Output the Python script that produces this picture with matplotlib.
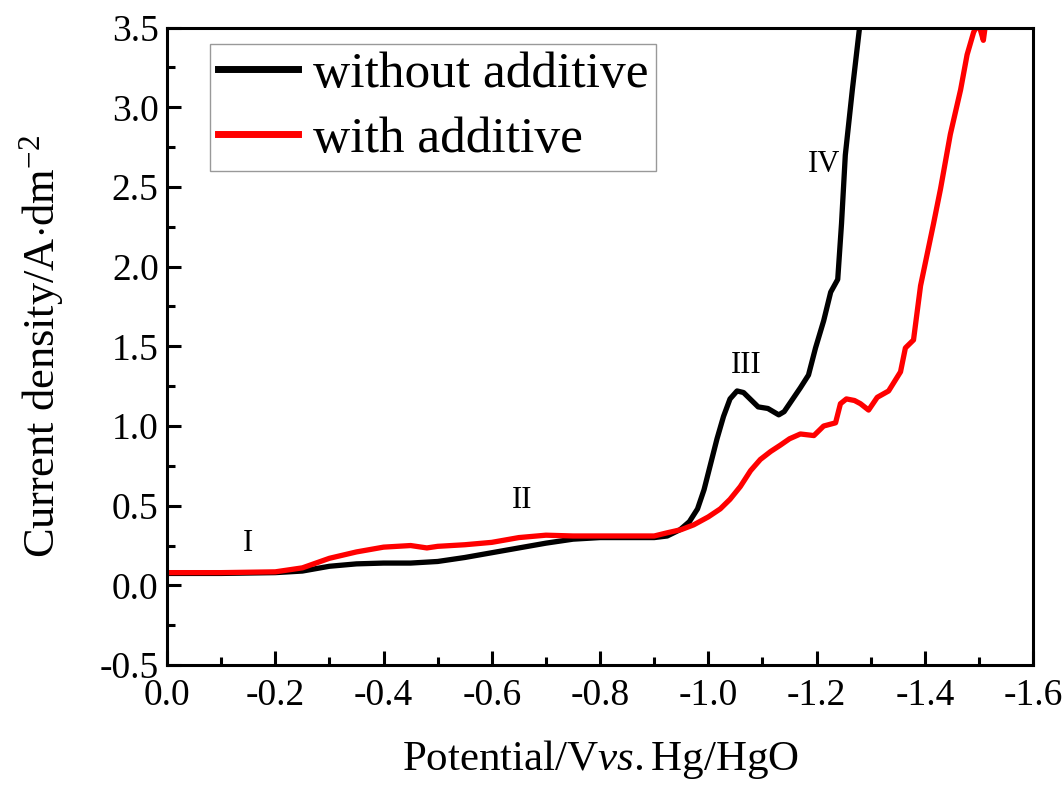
import matplotlib
matplotlib.use("Agg")
import matplotlib.pyplot as plt
from matplotlib.ticker import MultipleLocator, FormatStrFormatter

plt.rcParams['font.family'] = ['Liberation Serif', 'DejaVu Serif']
plt.rcParams['mathtext.fontset'] = 'custom'
plt.rcParams['mathtext.rm'] = 'Liberation Serif'
plt.rcParams['mathtext.it'] = 'Liberation Serif:italic'

# ---- data
pot_without = [0.0, -0.1, -0.2, -0.25, -0.3, -0.35, -0.4, -0.45, -0.5, -0.55, -0.6,
               -0.65, -0.7, -0.75, -0.8, -0.85, -0.9, -0.924, -0.948, -0.965, -0.98,
               -0.992, -1.004, -1.016, -1.028, -1.04, -1.053, -1.065, -1.08, -1.092,
               -1.11, -1.13, -1.14, -1.152, -1.17, -1.185, -1.198, -1.213, -1.226,
               -1.239, -1.246, -1.253, -1.266, -1.28]
cur_without = [0.075, 0.075, 0.08, 0.09, 0.12, 0.135, 0.14, 0.14, 0.15, 0.175, 0.205,
               0.235, 0.265, 0.29, 0.30, 0.30, 0.30, 0.31, 0.35, 0.40, 0.48,
               0.60, 0.76, 0.92, 1.06, 1.17, 1.22, 1.21, 1.16, 1.12,
               1.11, 1.07, 1.09, 1.15, 1.24, 1.32, 1.49, 1.66, 1.84,
               1.92, 2.27, 2.70, 3.11, 3.52]

pot_with = [0.0, -0.1, -0.2, -0.25, -0.3, -0.35, -0.4, -0.45, -0.48, -0.5, -0.55,
            -0.6, -0.65, -0.7, -0.75, -0.8, -0.85, -0.9, -0.924, -0.95, -0.973,
            -1.0, -1.022, -1.04, -1.059, -1.078, -1.096, -1.115, -1.133, -1.15,
            -1.17, -1.195, -1.213, -1.235, -1.244, -1.255, -1.27, -1.281, -1.296,
            -1.312, -1.333, -1.355, -1.364, -1.379, -1.392, -1.416, -1.429, -1.447,
            -1.466, -1.478, -1.49, -1.497, -1.503, -1.508, -1.512]
cur_with = [0.08, 0.08, 0.085, 0.11, 0.17, 0.21, 0.24, 0.25, 0.235, 0.245, 0.255,
            0.27, 0.30, 0.315, 0.31, 0.31, 0.31, 0.31, 0.33, 0.35, 0.38,
            0.43, 0.48, 0.54, 0.62, 0.72, 0.79, 0.84, 0.88, 0.92,
            0.95, 0.94, 1.00, 1.02, 1.14, 1.17, 1.16, 1.14, 1.10,
            1.18, 1.22, 1.34, 1.49, 1.54, 1.88, 2.27, 2.49, 2.83,
            3.11, 3.33, 3.47, 3.52, 3.48, 3.42, 3.52]

labels = ["I", "II", "III", "IV"]
label_x = [-0.15, -0.656, -1.07, -1.213]
label_y = [0.26, 0.53, 1.38, 2.64]

fig, ax = plt.subplots(figsize=(10.64, 7.88), dpi=100)
fig.subplots_adjust(left=0.157, right=0.971, top=0.965, bottom=0.156)

ax.plot(pot_without, cur_without, color='black', lw=3.8, label='without additive')
ax.plot(pot_with, cur_with, color='red', lw=3.8, label='with additive')

for t, x, y in zip(labels, label_x, label_y):
    ax.text(x, y, t, fontsize=22, ha='center', va='center')

ax.set_xlim(0.0, -1.6)
ax.set_ylim(-0.5, 3.5)
ax.xaxis.set_major_locator(MultipleLocator(0.2))
ax.xaxis.set_minor_locator(MultipleLocator(0.1))
ax.yaxis.set_major_locator(MultipleLocator(0.5))
ax.yaxis.set_minor_locator(MultipleLocator(0.25))
ax.tick_params(which='both', direction='in', width=2.2, labelsize=27)
ax.tick_params(axis='x', pad=10)
ax.tick_params(axis='y', pad=6)
ax.tick_params(which='major', length=10)
ax.tick_params(which='minor', length=6)
ax.xaxis.set_major_formatter(FormatStrFormatter('%.1f'))
ax.yaxis.set_major_formatter(FormatStrFormatter('%.1f'))
for s in ax.spines.values():
    s.set_linewidth(2.2)

ax.set_xlabel(r"Potential/V$\mathit{vs.}$Hg/HgO", fontsize=31, labelpad=18)
ax.set_ylabel(r"Current density/A$\cdot$dm$^{-2}$", fontsize=32, labelpad=24)

leg = ax.legend(loc='upper left', fontsize=37, handlelength=1.55, fancybox=False,
                borderpad=0.15, labelspacing=0.35, handletextpad=0.3,
                borderaxespad=0, bbox_to_anchor=(0.05, 0.975))
leg.get_frame().set_edgecolor('gray')
leg.get_frame().set_linewidth(1)
for line in leg.get_lines():
    line.set_linewidth(5)

plt.savefig("out.png", dpi=100)
